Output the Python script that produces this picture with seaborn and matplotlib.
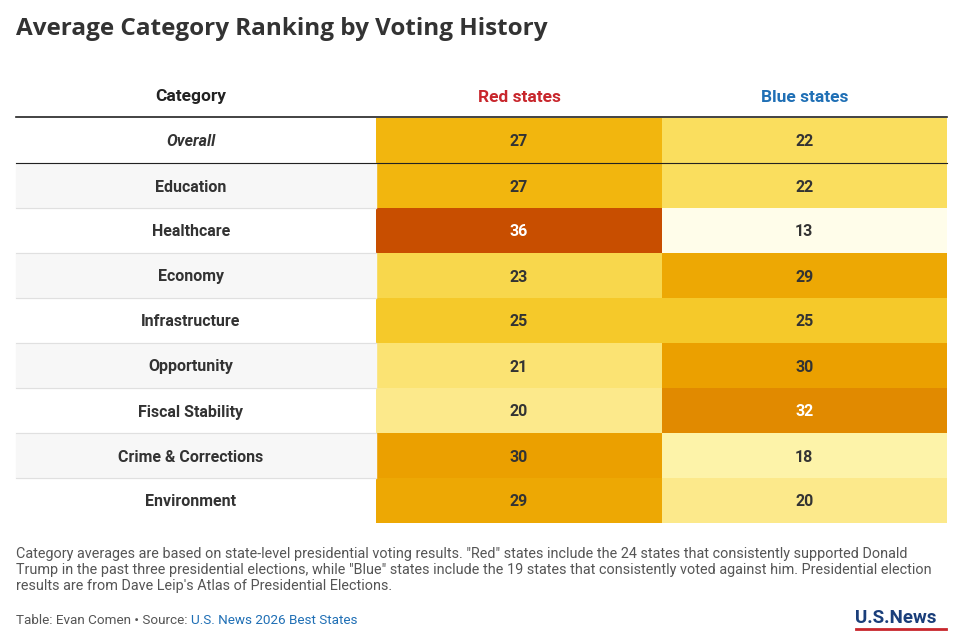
import matplotlib
matplotlib.use("Agg")
import matplotlib.pyplot as plt
import seaborn as sns
import numpy as np
import pandas as pd
from matplotlib.colors import LinearSegmentedColormap
from matplotlib.patches import Rectangle

categories = ["Overall", "Education", "Healthcare", "Economy", "Infrastructure",
              "Opportunity", "Fiscal Stability", "Crime & Corrections", "Environment"]
red_states = [27, 27, 36, 23, 25, 21, 20, 30, 29]
blue_states = [22, 22, 13, 29, 25, 30, 32, 18, 20]
columns = ["Red states", "Blue states"]

df = pd.DataFrame({"Red states": red_states, "Blue states": blue_states}, index=categories)

plt.rcParams['font.family'] = ['Roboto', 'DejaVu Sans']

W, H = 969, 641
fig = plt.figure(figsize=(W/100, H/100), dpi=100)
fig.patch.set_facecolor("white")
def fx(x): return x / W
def fy(y): return 1 - y / H

cmap = LinearSegmentedColormap.from_list("yo", [
    (0.0, "#fffdea"), (5/23, "#fdf3a8"), (7/23, "#fce98a"), (9/23, "#fade5e"),
    (12/23, "#f5c92a"), (14/23, "#f2b60e"), (17/23, "#eba100"), (19/23, "#e18a00"),
    (1.0, "#c84e00")])

top, bot = 118, 523
ax = fig.add_axes([fx(376), fy(bot), fx(947-376), (bot-top)/H])
sns.heatmap(df, ax=ax, cmap=cmap, vmin=13, vmax=36, cbar=False, annot=False)
for i, cat in enumerate(categories):
    for j, col in enumerate(columns):
        v = df.loc[cat, col]
        ax.text(j + 0.5, i + 0.5, str(v), ha="center", va="center_baseline", fontsize=11.5,
                fontweight="bold", color="white" if v >= 32 else "#333333")
ax.set_xticks([]); ax.set_yticks([]); ax.set_xlabel(""); ax.set_ylabel("")

rh = (bot - top) / 9
for i, cat in enumerate(categories):
    y0 = top + i * rh
    if i % 2 == 1:
        fig.patches.append(Rectangle((fx(16), fy(y0 + rh)), fx(376-16), rh/H,
                                     transform=fig.transFigure, color="#f7f7f7", zorder=0))
    if i >= 1:
        fig.add_artist(plt.Line2D([fx(16), fx(376)], [fy(y0), fy(y0)], color="#e0e0e0", lw=0.8))
    fig.text(fx(191), fy(y0 + rh/2), cat, ha="center", va="center_baseline", fontsize=11.5,
             fontweight="bold", color="#333333", style="italic" if i == 0 else "normal")

fig.add_artist(plt.Line2D([fx(16), fx(947)], [fy(117), fy(117)], color="#222222", lw=1.2))
fig.add_artist(plt.Line2D([fx(16), fx(947)], [fy(163), fy(163)], color="#222222", lw=0.8))

fig.text(fx(191), fy(97), "Category", ha="center", va="center", fontsize=12.5, fontweight="bold", color="#222222")
fig.text(fx(519), fy(97), "Red states", ha="center", va="center", fontsize=12.5, fontweight="bold", color="#c8262c")
fig.text(fx(805), fy(97), "Blue states", ha="center", va="center", fontsize=12.5, fontweight="bold", color="#1f6fb5")

fig.text(fx(16), fy(29), "Average Category Ranking by Voting History", ha="left", va="center",
         fontsize=17.5, fontweight="bold", color="#333333", family=['Open Sans', 'DejaVu Sans'])

note = ('Category averages are based on state-level presidential voting results. "Red" states include the 24 states that consistently supported Donald\n'
        'Trump in the past three presidential elections, while "Blue" states include the 19 states that consistently voted against him. Presidential election\n'
        "results are from Dave Leip's Atlas of Presidential Elections.")
fig.text(fx(16), fy(547), note, ha="left", va="top", fontsize=10.4, color="#555555", linespacing=1.18)
t1 = fig.text(fx(16), fy(621), "Table: Evan Comen \u2022 Source: ", ha="left", va="center", fontsize=9.7, color="#555555")
fig.canvas.draw()
bb = t1.get_window_extent()
fig.text(bb.x1 / W, fy(621), "U.S. News 2026 Best States", ha="left", va="center", fontsize=9.7, color="#1f6fb5")
fig.text(fx(855), fy(618), "U.S.News", ha="left", va="center", fontsize=13.5, fontweight="bold", color="#1a3e7a")
fig.add_artist(plt.Line2D([fx(856), fx(946)], [fy(629), fy(629)], color="#c8262c", lw=2))

fig.savefig("out.png", dpi=100, facecolor="white")
